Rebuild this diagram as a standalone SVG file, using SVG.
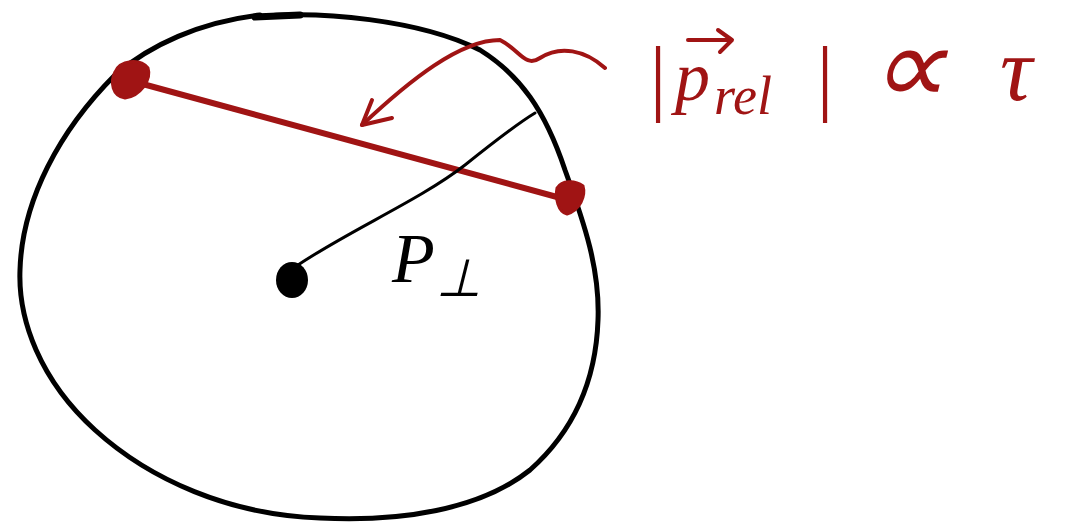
<svg xmlns="http://www.w3.org/2000/svg" width="1069" height="525" viewBox="0 0 1069 525">
<style>
.blk{fill:none;stroke:#000;stroke-linecap:round;stroke-linejoin:round}
.red{fill:none;stroke:#a01414;stroke-linecap:round;stroke-linejoin:round}
.rt{fill:#a01414;font-family:"Liberation Serif",serif;font-style:italic}
.bt{fill:#000;font-family:"Liberation Serif",serif;font-style:italic}
</style>
<rect width="1069" height="525" fill="#fff"/>
<g id="circle">
<path class="blk" stroke-width="5" d="M255,17 C320,10 420,20 480,50 C520,75 545,110 565,170 C585,225 600,270 598,320 C596,380 575,430 530,470 C480,510 400,522 320,518 C230,515 150,480 95,430 C40,380 18,320 20,270 C22,200 60,130 115,75 C150,45 200,22 260,15"/>
<path class="blk" stroke-width="7" d="M255,17 L300,15"/>
</g>
<g id="connectors">
<path class="red" stroke-width="6" d="M128,80 L568,200"/>
<path class="blk" stroke-width="3" d="M298,265 C350,230 420,200 465,165 C490,145 515,125 535,113"/>
<path class="red" stroke-width="4" d="M605,68 C585,50 560,45 540,58 C525,68 520,50 500,40 C460,40 410,80 362,125"/>
<path class="red" stroke-width="4" d="M362,125 L372,100 M362,125 L392,118"/>
</g>
<g id="dots">
<path fill="#a01414" stroke="#a01414" stroke-width="3" d="M115,72 C120,60 140,58 148,68 C152,80 140,96 125,98 C112,96 110,82 115,72 Z"/>
<path fill="#a01414" stroke="#a01414" stroke-width="3" d="M557,188 C562,180 575,180 583,186 C586,196 580,210 567,214 C558,212 555,198 557,188 Z"/>
<ellipse cx="292" cy="280" rx="16" ry="18" fill="#000"/>
</g>
<g id="labels">
<text class="bt" x="392" y="282" font-size="70">P</text>
<text class="bt" x="436" y="296" font-size="52">⊥</text>
<text class="rt" x="645" y="105" font-size="84">|</text>
<text class="rt" x="675" y="100" font-size="70">p</text>
<text class="rt" x="714" y="114" font-size="54">rel</text>
<path class="red" stroke-width="4" d="M688,40 L730,40 M718,30 L732,40 L720,52"/>
<text class="rt" x="812" y="105" font-size="84">|</text>
<text class="rt" x="868" y="104" font-size="110">∝</text>
<text class="rt" x="1000" y="100" font-size="90">τ</text>
</g>
</svg>
